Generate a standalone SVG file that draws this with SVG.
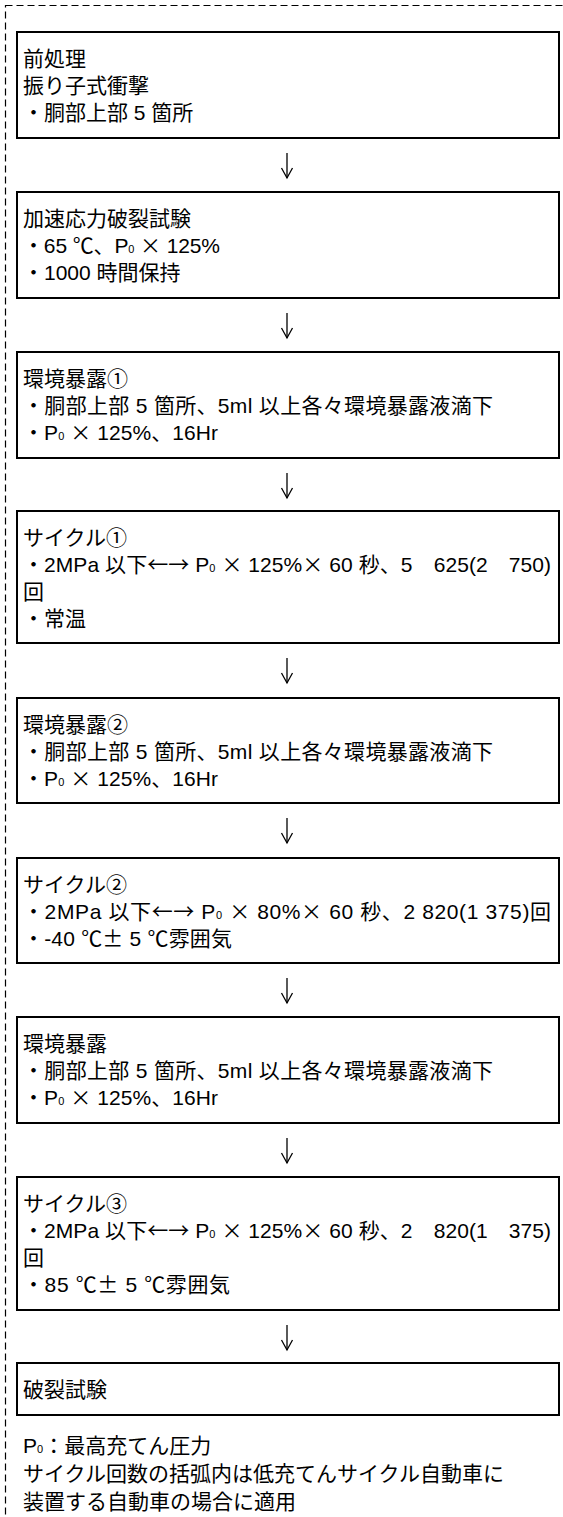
<svg xmlns="http://www.w3.org/2000/svg" width="563" height="1517" viewBox="0 0 563 1517">
<style>
.frame{fill:none;stroke:#000;stroke-width:1.2;stroke-dasharray:7 4}
.box{fill:none;stroke:#000;stroke-width:2}
.t{font-family:"Liberation Sans","Noto Sans CJK JP",sans-serif;font-size:21px;fill:#000;white-space:pre}
.s{font-size:11px}
.j{font-family:"Noto Sans CJK JP",sans-serif}
.conn line,.conn polyline{fill:none;stroke:#000;stroke-width:1.3}
</style>
<rect class="frame" x="5.5" y="5.5" width="700" height="1600"/>
<g class="conn" id="connectors">
<line x1="287" y1="153" x2="287" y2="178"/><polyline points="281.5,168 287,178 292.5,168"/>
<line x1="287" y1="313" x2="287" y2="338"/><polyline points="281.5,328 287,338 292.5,328"/>
<line x1="287" y1="473" x2="287" y2="498"/><polyline points="281.5,488 287,498 292.5,488"/>
<line x1="287" y1="658" x2="287" y2="683"/><polyline points="281.5,673 287,683 292.5,673"/>
<line x1="287" y1="818" x2="287" y2="843"/><polyline points="281.5,833 287,843 292.5,833"/>
<line x1="287" y1="978" x2="287" y2="1003"/><polyline points="281.5,993 287,1003 292.5,993"/>
<line x1="287" y1="1138" x2="287" y2="1163"/><polyline points="281.5,1153 287,1163 292.5,1153"/>
<line x1="287" y1="1325" x2="287" y2="1350"/><polyline points="281.5,1340 287,1350 292.5,1340"/>
</g>
<g id="n1"><rect class="box" x="17" y="32" width="542" height="106"/>
<text class="t" x="23" y="66">前処理</text>
<text class="t" x="23" y="93">振り子式衝撃</text>
<text class="t" x="23" y="120">・胴部上部 5 箇所</text></g>
<g id="n2"><rect class="box" x="17" y="192" width="542" height="106"/>
<text class="t" x="23" y="226">加速応力破裂試験</text>
<text class="t" x="23" y="253" textLength="197" lengthAdjust="spacing">・65 <tspan class="j">℃</tspan>、P<tspan class="s">0</tspan> <tspan class="j">×</tspan> 125%</text>
<text class="t" x="23" y="280">・1000 時間保持</text></g>
<g id="n3"><rect class="box" x="17" y="352" width="542" height="106"/>
<text class="t" x="23" y="386">環境暴露①</text>
<text class="t" x="23" y="413" textLength="470" lengthAdjust="spacing">・胴部上部 5 箇所、5ml 以上各々環境暴露液滴下</text>
<text class="t" x="23" y="440" textLength="195" lengthAdjust="spacing">・P<tspan class="s">0</tspan> <tspan class="j">×</tspan> 125%、16Hr</text></g>
<g id="n4"><rect class="box" x="17" y="511" width="542" height="132"/>
<text class="t" x="23" y="545">サイクル①</text>
<text class="t" x="23" y="572" textLength="528" lengthAdjust="spacing">・2MPa 以下<tspan class="j">←→</tspan> P<tspan class="s">0</tspan> <tspan class="j">×</tspan> 125%<tspan class="j">×</tspan> 60 秒、5　625(2　750)</text>
<text class="t" x="23" y="599">回</text>
<text class="t" x="23" y="626">・常温</text></g>
<g id="n5"><rect class="box" x="17" y="698" width="542" height="105"/>
<text class="t" x="23" y="732">環境暴露②</text>
<text class="t" x="23" y="759" textLength="470" lengthAdjust="spacing">・胴部上部 5 箇所、5ml 以上各々環境暴露液滴下</text>
<text class="t" x="23" y="786" textLength="195" lengthAdjust="spacing">・P<tspan class="s">0</tspan> <tspan class="j">×</tspan> 125%、16Hr</text></g>
<g id="n6"><rect class="box" x="17" y="858" width="542" height="105"/>
<text class="t" x="23" y="892">サイクル②</text>
<text class="t" x="23" y="919" textLength="528" lengthAdjust="spacing">・2MPa 以下<tspan class="j">←→</tspan> P<tspan class="s">0</tspan> <tspan class="j">×</tspan> 80%<tspan class="j">×</tspan> 60 秒、2 820(1 375)回</text>
<text class="t" x="23" y="946" textLength="209" lengthAdjust="spacing">・-40 <tspan class="j">℃±</tspan> 5 <tspan class="j">℃</tspan>雰囲気</text></g>
<g id="n7"><rect class="box" x="17" y="1017" width="542" height="106"/>
<text class="t" x="23" y="1051">環境暴露</text>
<text class="t" x="23" y="1078" textLength="470" lengthAdjust="spacing">・胴部上部 5 箇所、5ml 以上各々環境暴露液滴下</text>
<text class="t" x="23" y="1105" textLength="195" lengthAdjust="spacing">・P<tspan class="s">0</tspan> <tspan class="j">×</tspan> 125%、16Hr</text></g>
<g id="n8"><rect class="box" x="17" y="1177" width="542" height="133"/>
<text class="t" x="23" y="1211">サイクル③</text>
<text class="t" x="23" y="1238" textLength="528" lengthAdjust="spacing">・2MPa 以下<tspan class="j">←→</tspan> P<tspan class="s">0</tspan> <tspan class="j">×</tspan> 125%<tspan class="j">×</tspan> 60 秒、2　820(1　375)</text>
<text class="t" x="23" y="1265">回</text>
<text class="t" x="23" y="1292" textLength="207" lengthAdjust="spacing">・85 <tspan class="j">℃±</tspan> 5 <tspan class="j">℃</tspan>雰囲気</text></g>
<g id="n9"><rect class="box" x="17" y="1363" width="542" height="52"/>
<text class="t" x="23" y="1397">破裂試験</text></g>
<g id="notes">
<text class="t" x="23" y="1453">P<tspan class="s">0</tspan>：最高充てん圧力</text>
<text class="t" x="23" y="1481">サイクル回数の括弧内は低充てんサイクル自動車に</text>
<text class="t" x="23" y="1509">装置する自動車の場合に適用</text></g>
</svg>
